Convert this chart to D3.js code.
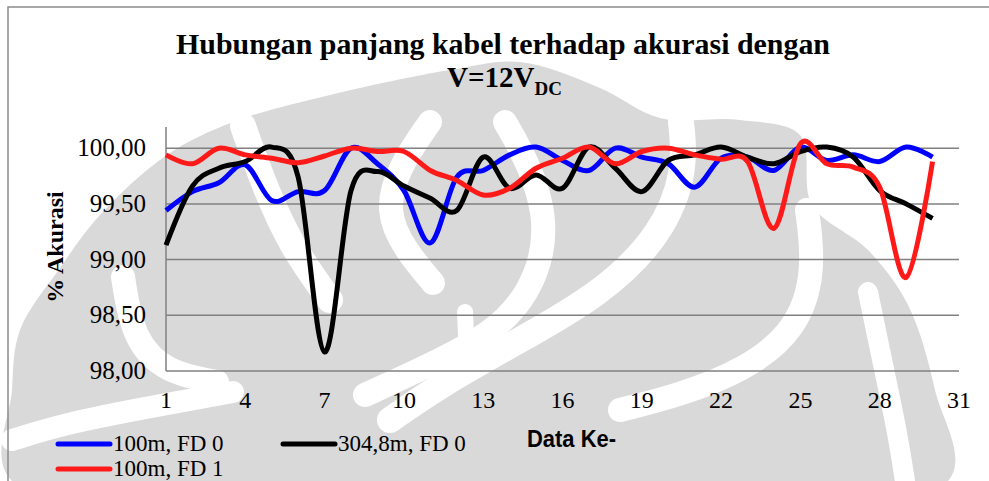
<!DOCTYPE html>
<html lang="id">
<head>
<meta charset="utf-8">
<title>Hubungan panjang kabel terhadap akurasi</title>
<script src="https://cdn.jsdelivr.net/npm/d3@7/dist/d3.min.js"></script>
<style>
  body { margin: 0; background: #fff; }
  svg { display: block; }
  .serif { font-family: "Liberation Serif", "Times New Roman", serif; fill: #000; }
</style>
</head>
<body>
<svg id="chart" width="989" height="481"></svg>
<script>
// data
var dataKe = [1,2,3,4,5,6,7,8,9,10,11,12,13,14,15,16,17,18,19,20,21,22,23,24,25,26,27,28,29,30];
var blue100FD0 = [99.44,99.61,99.69,99.85,99.53,99.61,99.62,100.00,99.86,99.62,
                  99.15,99.74,99.80,99.94,100.01,99.89,99.80,100.00,99.92,99.86,
                  99.65,99.91,99.92,99.80,100.01,99.89,99.94,99.88,100.01,99.92];
var black304FD0 = [99.13,99.66,99.82,99.88,100.01,99.74,98.17,99.62,99.79,99.66,
                   99.55,99.44,99.92,99.64,99.76,99.64,100.01,99.82,99.61,99.89,
                   99.94,100.01,99.92,99.86,99.97,100.01,99.92,99.62,99.50,99.37];
var red100FD1 = [99.94,99.86,100.00,99.94,99.91,99.87,99.93,100.00,99.97,99.97,
                 99.80,99.71,99.58,99.64,99.82,99.91,100.01,99.86,99.97,100.00,
                 99.94,99.90,99.88,99.28,100.04,99.86,99.83,99.65,98.84,99.88];
var seriesNames = ["100m, FD 0", "304,8m, FD 0", "100m, FD 1"];
var seriesColors = ["#0000ff", "#000000", "#ff1a1a"];
var xTicks = [1,4,7,10,13,16,19,22,25,28,31];
var yTicks = [98, 98.5, 99, 99.5, 100];

var svg = d3.select("#chart");

// faded logo in the background (rough shape)
var bgShape = [[20,330],[60,268],[100,215],[167,155],[233,122],[330,95],[450,70],[520,62],
               [600,88],[660,118],[740,120],[800,135],[812,205],[868,250],[908,305],[935,390],
               [948,481],[12,481],[12,390]];
var bgBands = [
  [[243,126],[262,180],[290,245],[330,300]],
  [[430,122],[398,168],[386,212],[405,250],[433,283]],
  [[505,122],[530,165],[550,230],[530,295],[490,335],[430,365],[365,395]],
  [[681,122],[686,170],[662,235],[600,295],[520,340],[440,385],[390,420]],
  [[465,312],[467,360]],
  [[807,210],[815,270],[797,330],[745,370],[680,395],[620,410]],
  [[868,292],[882,360],[897,430],[905,481]],
  [[123,277],[133,340],[167,373],[217,382]],
  [[12,440],[67,423],[150,407],[233,392]]
];
var bandWidths = [26, 24, 24, 26, 16, 24, 20, 24, 22];
var bg = svg.append("g").attr("class", "watermark");
bg.append("path")
  .attr("d", d3.line().curve(d3.curveCatmullRomClosed)(bgShape))
  .attr("fill", "#d9d9d9");
bg.selectAll(".band").data(bgBands).enter().append("path")
  .attr("class", "band")
  .attr("d", d3.line().curve(d3.curveBasis))
  .attr("fill", "none")
  .attr("stroke", "#fff")
  .attr("stroke-width", (d, i) => bandWidths[i])
  .attr("stroke-linecap", "round");

// outer frame
svg.append("path")
  .attr("d", "M8,481 V7 H989")
  .attr("fill", "none")
  .attr("stroke", "#8c8c8c")
  .attr("stroke-width", 1.5);

var x = d3.scaleLinear().domain([1, 31]).range([166, 959]);
var y = d3.scaleLinear().domain([98, 100.19]).range([371, 127]);

// gridlines
svg.append("g").selectAll("line").data(yTicks).enter().append("line")
  .attr("x1", x(1)).attr("x2", x(31))
  .attr("y1", d => y(d)).attr("y2", d => y(d))
  .attr("stroke", "#808080").attr("stroke-width", 1.5);

// y axis line
svg.append("line")
  .attr("x1", x(1)).attr("x2", x(1))
  .attr("y1", y(100.19)).attr("y2", y(98))
  .attr("stroke", "#808080").attr("stroke-width", 1.5);

var fmt = d => d3.format(".2f")(d).replace(".", ",");

svg.append("g").selectAll("text").data(yTicks).enter().append("text")
  .attr("class", "serif")
  .attr("x", 146)
  .attr("y", d => y(d) + 8)
  .attr("text-anchor", "end")
  .style("font-size", "25px")
  .text(fmt);

svg.append("g").selectAll("text").data(xTicks).enter().append("text")
  .attr("class", "serif")
  .attr("x", d => x(d))
  .attr("y", 408)
  .attr("text-anchor", "middle")
  .style("font-size", "24px")
  .text(d => d);

// series lines
var series = [blue100FD0, black304FD0, red100FD1];
var line = d3.line()
  .x((d, i) => x(dataKe[i]))
  .y(d => y(d))
  .curve(d3.curveCardinal.tension(0));

svg.append("g").selectAll("path").data(series).enter().append("path")
  .attr("d", line)
  .attr("fill", "none")
  .attr("stroke", (d, i) => seriesColors[i])
  .attr("stroke-width", 5)
  .attr("stroke-linejoin", "round");

// title
svg.append("text")
  .attr("class", "serif")
  .attr("x", 503).attr("y", 54)
  .attr("text-anchor", "middle")
  .style("font-size", "29px").style("font-weight", "bold")
  .attr("textLength", 654).attr("lengthAdjust", "spacingAndGlyphs")
  .text("Hubungan panjang kabel terhadap akurasi dengan");
var t2 = svg.append("text")
  .attr("class", "serif")
  .attr("x", 447).attr("y", 87)
  .style("font-size", "29px").style("font-weight", "bold");
t2.append("tspan").text("V=12V");
t2.append("tspan").attr("dy", 8).style("font-size", "19px").text("DC");

// axis titles
svg.append("text")
  .attr("class", "serif")
  .attr("transform", "translate(63,247) rotate(-90)")
  .attr("text-anchor", "middle")
  .style("font-size", "24px").style("font-weight", "bold")
  .text("% Akurasi");
svg.append("text")
  .attr("x", 527).attr("y", 447)
  .style("font-family", "'Liberation Sans Narrow', 'Arial Narrow', 'Liberation Sans', sans-serif")
  .style("font-size", "23px").style("font-weight", "bold")
  .attr("textLength", 89).attr("lengthAdjust", "spacingAndGlyphs")
  .text("Data Ke-");

// legend
var legendPos = [[58, 444], [283, 444], [58, 469]];
var lg = svg.append("g").selectAll("g").data(seriesNames).enter().append("g")
  .attr("transform", (d, i) => "translate(" + legendPos[i][0] + "," + legendPos[i][1] + ")");
lg.append("line")
  .attr("x1", 0).attr("x2", 52).attr("y1", 0).attr("y2", 0)
  .attr("stroke", (d, i) => seriesColors[i])
  .attr("stroke-width", 5)
  .attr("stroke-linecap", "round");
lg.append("text")
  .attr("class", "serif")
  .attr("x", 55).attr("y", 7)
  .style("font-size", "23px")
  .text(d => d);
</script>
</body>
</html>
